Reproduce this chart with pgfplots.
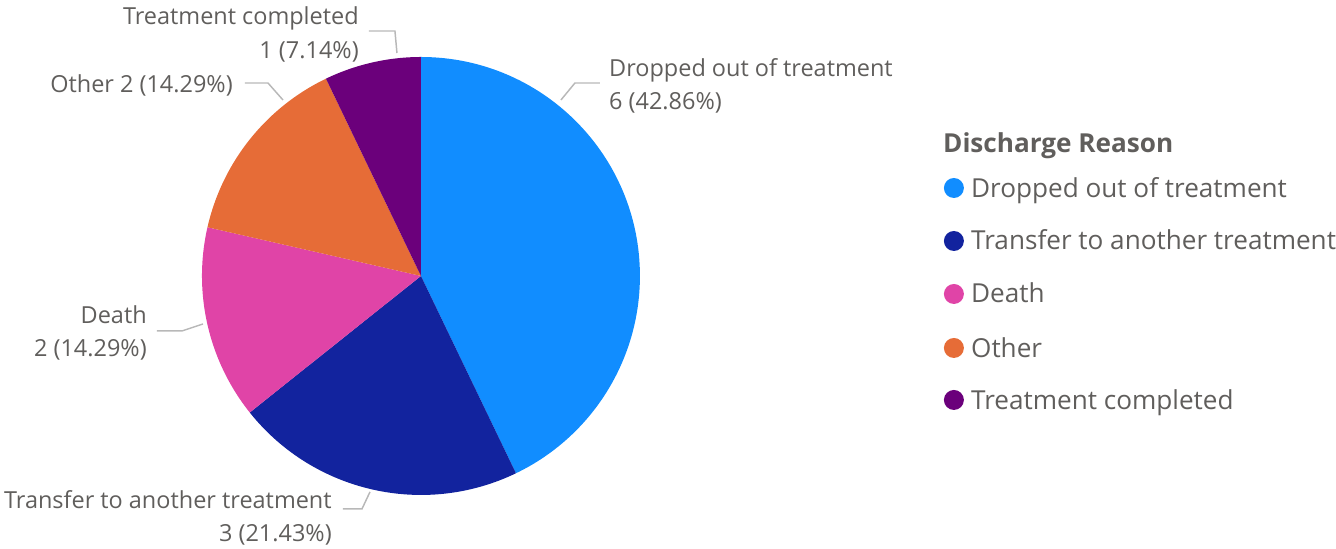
\documentclass[border=0pt]{standalone}
\usepackage{pgfplots}
\pgfplotsset{compat=1.18}
\usepackage{fontspec}
\setmainfont{Open Sans}

\definecolor{cDrop}{HTML}{118DFF}
\definecolor{cTrans}{HTML}{12239E}
\definecolor{cDeath}{HTML}{E044A7}
\definecolor{cOther}{HTML}{E66C37}
\definecolor{cDone}{HTML}{6B007B}
\definecolor{txt}{HTML}{605E5C}
\definecolor{lead}{HTML}{B8B8B8}

\begin{document}
\begin{tikzpicture}[
    lbl/.style={text=txt, inner sep=0pt, font=\fontsize{17.6}{21}\selectfont},
    leg/.style={text=txt, inner sep=0pt, font=\fontsize{19.6}{23}\selectfont},
    leader/.style={draw=lead, line width=1.1pt},
]
% pixel-sized canvas: 1 unit = 1 px of the reference, y downwards
\begin{axis}[
    width=1002pt, height=411.75pt, scale only axis,
    xmin=0, xmax=1336, ymin=0, ymax=549, y dir=reverse,
    hide axis, clip=false,
]
\coordinate (C) at (axis cs:421,276);
\coordinate (TL) at (axis cs:0,0);
\coordinate (BR) at (axis cs:1336,549);

% slice labels
\node[lbl, anchor=base west] at (axis cs:609,77) {Dropped out of treatment};
\node[lbl, anchor=base west] at (axis cs:609,110) {6 (42.86\%)};
\draw[leader] (axis cs:600,83) -- (axis cs:575,83) -- (axis cs:561,100);

\node[lbl, anchor=base east] at (axis cs:332,509) {Transfer to another treatment};
\node[lbl, anchor=base east] at (axis cs:332,542) {3 (21.43\%)};
\draw[leader] (axis cs:343,509) -- (axis cs:362,509) -- (axis cs:370,492);

\node[lbl, anchor=base east] at (axis cs:147,324) {Death};
\node[lbl, anchor=base east] at (axis cs:147,357) {2 (14.29\%)};
\draw[leader] (axis cs:157,331) -- (axis cs:182,331) -- (axis cs:203,324);

\node[lbl, anchor=base east] at (axis cs:233,93) {Other 2 (14.29\%)};
\draw[leader] (axis cs:245,83) -- (axis cs:268,83) -- (axis cs:283,100);

\node[lbl, anchor=base east] at (axis cs:359,25) {Treatment completed};
\node[lbl, anchor=base east] at (axis cs:359,59) {1 (7.14\%)};
\draw[leader] (axis cs:369,31) -- (axis cs:395,31) -- (axis cs:397,53);

% legend
\node[leg, anchor=base west, font=\fontsize{19.6}{23}\selectfont\bfseries] at (axis cs:943,153) {Discharge Reason};
\fill[cDrop]  (axis cs:954,188) circle[radius=7.5pt];
\fill[cTrans] (axis cs:954,241) circle[radius=7.5pt];
\fill[cDeath] (axis cs:954,294) circle[radius=7.5pt];
\fill[cOther] (axis cs:954,348) circle[radius=7.5pt];
\fill[cDone]  (axis cs:954,400) circle[radius=7.5pt];
\node[leg, anchor=base west] at (axis cs:971,198) {Dropped out of treatment};
\node[leg, anchor=base west] at (axis cs:971,250) {Transfer to another treatment};
\node[leg, anchor=base west] at (axis cs:971,303) {Death};
\node[leg, anchor=base west] at (axis cs:971,358) {Other};
\node[leg, anchor=base west] at (axis cs:971,410) {Treatment completed};
\end{axis}
\path (TL) rectangle (BR);

% pie slices from the counts (total 14), clockwise from 12 o'clock
\foreach \v/\c [remember=\e as \s (initially 90)] in {6/cDrop,3/cTrans,2/cDeath,2/cOther,1/cDone} {
  \pgfmathsetmacro\e{\s-360*\v/14}
  \fill[\c] (C) -- ++(\s:164.25pt) arc[start angle=\s, end angle=\e, radius=164.25pt] -- cycle;
}
\end{tikzpicture}
\end{document}
